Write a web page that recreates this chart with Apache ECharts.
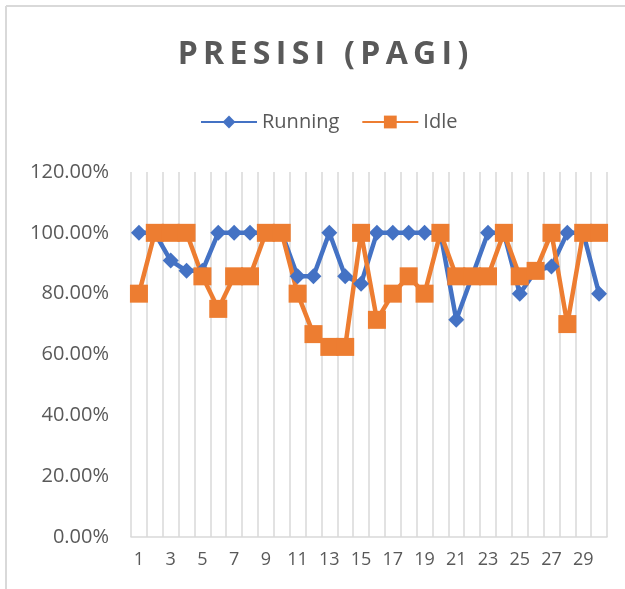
<!DOCTYPE html>
<html>
<head>
  <meta charset="UTF-8" />
  <title>presisi-pagi</title>
  <style>
    * { margin: 0; padding: 0; }
    html, body { width: 100%; height: 100%; background: #fff; }
    #chart { width: 625px; height: 589px; }
  </style>
</head>
<body>
  <div id="chart"></div>
  <script src="https://cdn.jsdelivr.net/npm/echarts@6/dist/echarts.min.js"></script>
  <script>
    var days = ['1','2','3','4','5','6','7','8','9','10','11','12','13','14','15',
                '16','17','18','19','20','21','22','23','24','25','26','27','28','29','30'];
    // nilai presisi (%)
    var running = [100, 100, 90.9, 87.5, 87.5, 100, 100, 100, 100, 100,
                   85.7, 85.7, 100, 85.7, 83.3, 100, 100, 100, 100, 100,
                   71.4, 85.7, 100, 100, 80, 87.5, 88.9, 100, 100, 80];
    var idle = [80, 100, 100, 100, 85.7, 75, 85.7, 85.7, 100, 100,
                80, 66.7, 62.5, 62.5, 100, 71.4, 80, 85.7, 80, 100,
                85.7, 85.7, 85.7, 100, 85.7, 87.5, 100, 70, 100, 100];

    var chart = echarts.init(document.getElementById('chart'));
    var grey = '#595959';
    var sp = '\u2009'; // thin space buat jarak huruf judul
    var option = {
      animation: false,
      backgroundColor: '#fff',
      graphic: [
        { type: 'line', shape: { x1: 6, y1: 6, x2: 625, y2: 6 }, style: { stroke: '#d9d9d9', lineWidth: 2 } },
        { type: 'line', shape: { x1: 6, y1: 6, x2: 6, y2: 589 }, style: { stroke: '#d9d9d9', lineWidth: 2 } }
      ],
      title: {
        text: 'PRESISI (PAGI)'.split('').join(sp),
        left: 318,
        textAlign: 'center',
        top: 34,
        textStyle: { color: grey, fontSize: 32, fontWeight: 'bold', fontFamily: 'Open Sans' }
      },
      legend: {
        top: 107,
        left: 195,
        itemWidth: 56,
        itemHeight: 16,
        itemGap: 22,
        textStyle: { color: grey, fontSize: 20, fontFamily: 'Open Sans' },
        data: ['Running', 'Idle']
      },
      grid: { left: 131, right: 18, top: 172, bottom: 52 },
      xAxis: {
        type: 'category',
        data: days,
        boundaryGap: true,
        axisLine: { lineStyle: { color: '#d9d9d9', width: 1.5 } },
        axisTick: { show: false },
        splitLine: { show: true, interval: 0, lineStyle: { color: '#d9d9d9', width: 1.5 } },
        axisLabel: { interval: 1, color: grey, fontSize: 18, fontFamily: 'Open Sans', margin: 14 }
      },
      yAxis: {
        type: 'value',
        min: 0,
        max: 120,
        interval: 20,
        axisLine: { show: false },
        axisTick: { show: false },
        splitLine: { show: false },
        axisLabel: {
          color: grey, fontSize: 20, fontFamily: 'Open Sans', margin: 22,
          formatter: function (v) { return v.toFixed(2) + '%'; }
        }
      },
      series: [
        {
          name: 'Running',
          type: 'line',
          data: running,
          color: '#4472c4',
          symbol: 'diamond',
          symbolSize: 16,
          showAllSymbol: true,
          lineStyle: { width: 4.5 }
        },
        {
          name: 'Idle',
          type: 'line',
          data: idle,
          color: '#ed7d31',
          symbol: 'rect',
          symbolSize: 18,
          showAllSymbol: true,
          lineStyle: { width: 4.5 }
        }
      ]
    };
    chart.setOption(option);
  </script>
</body>
</html>
